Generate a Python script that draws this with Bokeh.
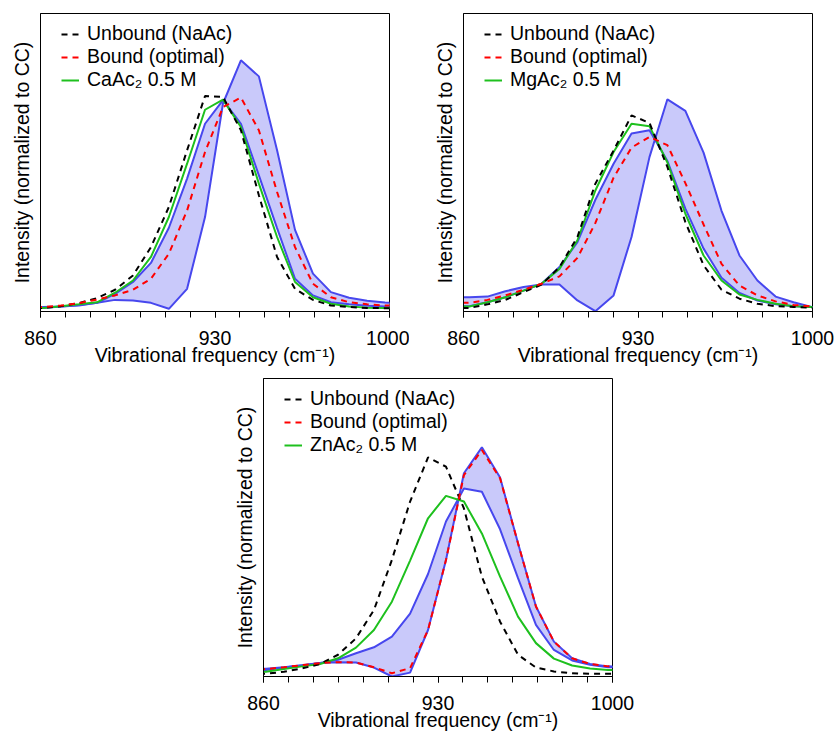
from bokeh.plotting import figure
from bokeh.models import Range1d, FixedTicker, Legend, LegendItem, Spacer
from bokeh.layouts import column, row
from bokeh.embed import file_html
from bokeh.resources import INLINE

# ---- data (frequency grid in cm^-1, intensities normalized to CC, arbitrary units) ----
freq = [853.8, 861.0, 868.2, 875.4, 882.7, 889.9, 897.1, 904.3, 911.5, 918.8, 926.0,
        933.2, 940.4, 947.6, 954.9, 962.1, 969.3, 976.5, 983.8, 991.0, 998.2, 1005.4]
freq_mg = [855.2, 862.4, 869.6, 876.8, 884.1, 891.3, 898.5, 905.7, 912.9, 920.2, 927.4,
           934.6, 941.8, 949.0, 956.3, 963.5, 970.7, 977.9, 985.2, 992.4, 999.6, 1006.8]

unbound_ca = [1.1, 1.2, 1.8, 2.8, 4.5, 7.3, 12.1, 21.6, 35.1, 54.1, 72.3, 72.0, 60.8, 39.0, 18.3, 7.6, 3.9, 2.0, 1.5, 1.2, 1.1, 1.0]
bound_ca = [1.4, 1.5, 2.0, 2.8, 4.0, 5.4, 7.3, 11.0, 19.4, 33.9, 53.5, 68.6, 71.8, 60.8, 40.1, 21.6, 9.3, 4.8, 3.1, 2.4, 2.0, 1.9]
salt_ca = [1.1, 1.2, 1.8, 2.4, 3.1, 6.3, 10.4, 18.3, 31.7, 49.6, 67.7, 71.1, 61.9, 42.9, 25.0, 9.9, 4.8, 2.6, 1.7, 1.3, 1.2, 1.2]
band1_ca = [1.4, 1.5, 1.7, 2.2, 2.9, 5.9, 9.9, 16.3, 28.1, 44.6, 63.0, 70.9, 63.0, 45.7, 28.0, 11.0, 5.4, 3.1, 2.4, 1.9, 1.7, 1.7]
band2_ca = [1.1, 1.2, 1.7, 2.0, 2.9, 3.9, 3.7, 2.9, 0.9, 7.6, 31.7, 69.8, 84.3, 78.9, 54.1, 27.4, 12.7, 6.5, 4.6, 3.6, 3.0, 2.9]

unbound_mg = [1.2, 1.2, 2.4, 3.9, 6.5, 9.0, 14.9, 25.0, 42.9, 54.0, 65.8, 63.3, 48.5, 30.0, 15.5, 7.3, 4.3, 2.6, 1.8, 1.5, 1.3, 1.3]
bound_mg = [2.9, 2.9, 3.9, 5.4, 7.3, 9.3, 11.8, 18.0, 29.7, 44.9, 55.0, 58.6, 55.8, 43.1, 29.2, 16.0, 8.7, 5.4, 3.4, 2.2, 1.7, 1.6]
salt_mg = [1.7, 1.7, 3.1, 4.8, 7.0, 9.3, 14.3, 23.9, 40.6, 53.5, 63.0, 62.2, 50.0, 32.8, 18.8, 10.4, 5.7, 3.9, 2.6, 1.8, 1.5, 1.5]
band1_mg = [1.8, 1.8, 3.1, 4.8, 7.0, 9.3, 14.9, 23.3, 37.5, 49.6, 59.7, 60.8, 50.5, 34.5, 21.1, 11.3, 6.2, 3.7, 2.4, 1.8, 1.5, 1.5]
band2_mg = [4.8, 4.8, 5.0, 6.8, 8.2, 9.1, 9.1, 3.7, 0.1, 5.4, 25.0, 51.8, 71.2, 67.3, 53.3, 33.8, 18.8, 10.4, 5.0, 3.1, 1.5, 1.2]

unbound_zn = [0.8, 0.9, 1.6, 2.7, 4.2, 7.3, 12.8, 22.3, 39.1, 58.7, 73.5, 70.4, 56.4, 33.5, 18.4, 7.3, 3.0, 1.7, 1.1, 0.9, 0.9, 0.9]
bound_zn = [2.3, 2.5, 3.1, 3.8, 4.5, 4.8, 4.7, 3.1, 1.1, 2.8, 15.6, 39.1, 67.6, 76.0, 66.5, 44.7, 23.5, 11.7, 6.1, 4.2, 3.4, 3.2]
salt_zn = [1.5, 1.6, 2.5, 3.4, 4.2, 6.1, 9.7, 15.6, 25.1, 38.9, 53.1, 60.6, 58.7, 48.0, 33.5, 20.1, 11.2, 6.0, 3.7, 2.7, 2.2, 2.1]
band1_zn = [2.1, 2.2, 3.0, 3.7, 4.5, 5.6, 7.8, 9.8, 13.4, 21.1, 34.4, 52.0, 63.1, 62.0, 49.4, 33.0, 17.3, 8.9, 5.4, 3.9, 3.1, 3.0]
band2_zn = [2.4, 2.6, 3.1, 3.8, 4.5, 4.8, 4.7, 3.0, 0.0, 1.3, 15.6, 39.1, 68.2, 76.9, 66.8, 44.7, 23.5, 11.7, 6.1, 4.2, 3.4, 3.2]

x_major = [860, 930, 1000]
x_minor = [860, 870, 880, 890, 900, 910, 920, 930, 940, 950, 960, 970, 980, 990, 1000]
legend_labels = ["Unbound (NaAc)", "Bound (optimal)"]
salt_labels = ["CaAc\u2082 0.5 M", "MgAc\u2082 0.5 M", "ZnAc\u2082 0.5 M"]

FONT = "Liberation Sans"
FS = "19.5px"
BLUE = "#4747ee"
FILL = "#c9c9fa"
GREEN = "#1ec01e"
RED = "#ff0000"


def panel(x, unbound, bound, salt, band1, band2, salt_label, width, height,
          bl, br, bt, bb):
    p = figure(width=width, height=height, x_range=Range1d(860, 1000),
               y_range=Range1d(0, 100), output_backend="svg", toolbar_location=None,
               min_border_left=bl, min_border_right=br, min_border_top=bt,
               min_border_bottom=bb)
    p.grid.visible = False
    p.outline_line_color = "black"
    p.outline_line_width = 1
    p.background_fill_color = "white"
    p.border_fill_color = "white"

    p.varea(x=x, y1=band1, y2=band2, fill_color=FILL, fill_alpha=1.0)
    p.line(x, band1, line_color=BLUE, line_width=2)
    p.line(x, band2, line_color=BLUE, line_width=2)
    r_salt = p.line(x, salt, line_color=GREEN, line_width=2)
    r_unb = p.line(x, unbound, line_color="black", line_width=2, line_dash="6 5")
    r_bnd = p.line(x, bound, line_color=RED, line_width=2, line_dash="6 5")

    legend = Legend(items=[LegendItem(label=legend_labels[0], renderers=[r_unb]),
                           LegendItem(label=legend_labels[1], renderers=[r_bnd]),
                           LegendItem(label=salt_label, renderers=[r_salt])],
                    location=(21, 220), padding=0, margin=0, spacing=-3,
                    glyph_width=18, glyph_height=20, label_height=20,
                    label_standoff=8, border_line_alpha=0, background_fill_alpha=0,
                    label_text_font=FONT, label_text_font_size=FS,
                    label_text_color="black")
    p.add_layout(legend)

    xa = p.xaxis[0]
    xa.ticker = FixedTicker(ticks=x_major, minor_ticks=x_minor)
    xa.major_tick_out = 6
    xa.major_tick_in = 0
    xa.minor_tick_out = 6
    xa.minor_tick_in = 0
    xa.major_label_standoff = 13
    xa.axis_label = "Vibrational frequency (cm\u207b\u00b9)"
    xa.axis_label_standoff = -4
    ya = p.yaxis[0]
    ya.ticker = FixedTicker(ticks=[])
    ya.major_tick_out = 0
    ya.major_tick_in = 0
    ya.minor_tick_out = 0
    ya.minor_tick_in = 0
    ya.axis_label = "Intensity (normalized to CC)"
    ya.axis_label_standoff = 8
    for ax in (xa, ya):
        ax.axis_line_color = "black"
        ax.major_tick_line_color = "black"
        ax.minor_tick_line_color = "black"
        ax.major_label_text_font = FONT
        ax.major_label_text_font_size = FS
        ax.major_label_text_color = "black"
        ax.axis_label_text_font = FONT
        ax.axis_label_text_font_size = FS
        ax.axis_label_text_font_style = "normal"
        ax.axis_label_text_color = "black"
    return p


p1 = panel(freq, unbound_ca, bound_ca, salt_ca, band1_ca, band2_ca, salt_labels[0],
           409, 368, 40, 20, 13, 57)
p2 = panel(freq_mg, unbound_mg, bound_mg, salt_mg, band1_mg, band2_mg, salt_labels[1],
           427, 368, 54, 24, 13, 57)
p3 = panel(freq, unbound_zn, bound_zn, salt_zn, band1_zn, band2_zn, salt_labels[2],
           426, 365, 54, 23, 10, 57)

layout = column(row(p1, p2), row(Spacer(width=209, height=10), p3))

open("out.html", "w").write(file_html(layout, INLINE))
